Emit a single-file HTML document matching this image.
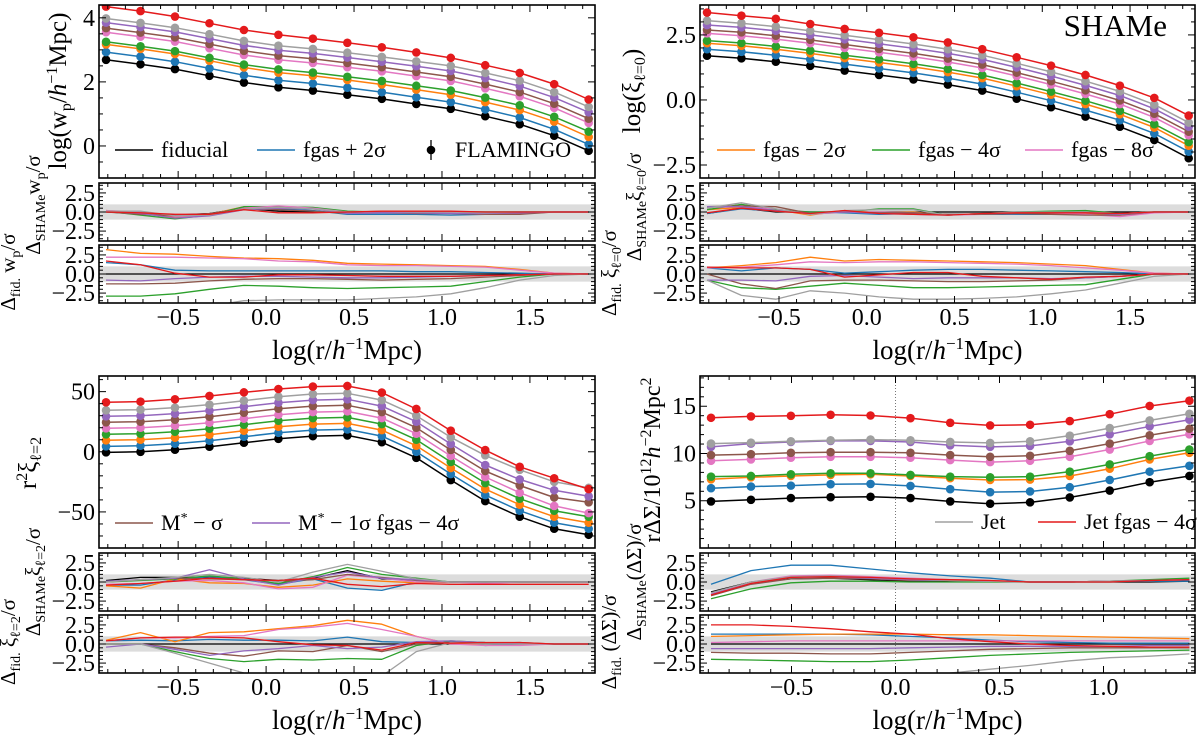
<!DOCTYPE html>
<html><head><meta charset="utf-8"><style>
html,body{margin:0;padding:0;background:#fff}
svg, svg text{font-family:"Liberation Serif","DejaVu Serif",serif}
</style></head><body>
<svg id="fig" width="1200" height="740" viewBox="0 0 1200 740" xmlns="http://www.w3.org/2000/svg" font-family="Liberation Serif, serif"></svg>
<script>
const seriesNames=["fiducial","fgas+2s","fgas-2s","fgas-4s","fgas-8s","Mstar-s","Mstar-1s-fgas-4s","Jet","Jet-fgas-4s"];
const colors=["#000000","#1f77b4","#ff7f0e","#2ca02c","#e377c2","#8c564b","#9467bd","#a0a0a0","#e41a1c"];
const xTop=[-0.91,-0.714,-0.518,-0.322,-0.126,0.07,0.266,0.462,0.658,0.854,1.05,1.246,1.442,1.638,1.834];
const xDS=[-0.887,-0.695,-0.503,-0.312,-0.12,0.072,0.263,0.455,0.647,0.838,1.03,1.222,1.413];

const wpMain=[
[2.69,2.55,2.40,2.19,1.98,1.83,1.73,1.60,1.47,1.31,1.16,0.93,0.68,0.32,-0.15],
[2.93,2.79,2.63,2.42,2.21,2.05,1.95,1.82,1.68,1.52,1.37,1.14,0.89,0.52,0.05],
[3.17,3.03,2.87,2.66,2.45,2.29,2.19,2.06,1.92,1.76,1.60,1.37,1.12,0.76,0.28],
[3.25,3.11,2.96,2.75,2.54,2.39,2.29,2.16,2.03,1.88,1.73,1.51,1.27,0.91,0.45],
[3.55,3.41,3.26,3.05,2.84,2.69,2.59,2.46,2.33,2.18,2.03,1.80,1.55,1.19,0.72],
[3.68,3.54,3.39,3.18,2.97,2.82,2.72,2.59,2.46,2.31,2.16,1.93,1.68,1.32,0.85],
[3.85,3.71,3.56,3.35,3.14,2.99,2.89,2.76,2.63,2.49,2.34,2.12,1.87,1.51,1.05],
[3.98,3.84,3.69,3.49,3.28,3.13,3.03,2.91,2.78,2.64,2.50,2.28,2.04,1.68,1.22],
[4.35,4.21,4.04,3.83,3.62,3.47,3.35,3.22,3.08,2.92,2.75,2.52,2.28,1.93,1.45]];
const wpRes1=[
[0,-0.2,-0.4,-0.2,0.5,0.1,0,0,0,0,0,0,0,0,0],
[0,-0.2,-0.6,-0.3,0.6,0.4,0.2,-0.3,-0.3,-0.3,-0.4,-0.3,-0.2,0,0],
[0.2,-0.1,-0.7,-0.3,0.7,0.6,0.4,0,-0.1,0,0,-0.2,-0.1,0,0],
[0.1,-0.4,-0.9,-0.4,0.7,0.7,0.6,0.1,0,0.1,0,0,0,0,0],
[0.2,0,-0.6,-0.4,0.5,0.8,0.5,0,0,0,-0.1,-0.3,-0.2,0,0],
[0,-0.3,-0.5,-0.2,0.4,0.3,0.1,-0.2,-0.1,-0.2,-0.2,-0.3,-0.3,0,0],
[0.1,-0.2,-0.8,-0.5,0.3,0.5,0.4,-0.2,-0.1,-0.1,-0.2,-0.2,-0.1,0,0],
[0.1,0.1,-0.5,-0.4,0.4,0.6,0.4,0,0.1,0,0,-0.1,0,0,0],
[0,-0.1,-0.3,-0.3,0.3,-0.1,-0.1,0,0.1,0.1,0.1,0,0,0,0]];
const wpRes2=[
[0,0,0,0,0,0,0,0,0,0,0,0,0,0,0],
[1.5,1.2,0.5,0.4,0.4,0.4,0.4,0.4,0.4,0.3,0.3,0.2,0.1,0,0],
[3.2,2.7,2.6,2.3,2.1,2.0,1.8,1.4,1.3,1.2,1.1,1.0,0.6,0.1,0],
[-2.9,-2.9,-2.6,-2.0,-1.5,-1.6,-1.8,-1.9,-1.8,-1.7,-1.6,-1.0,-0.4,0,0],
[2.2,2.2,2.2,2.1,2.0,1.7,1.6,1.2,1.1,1.1,1.0,0.9,0.5,0.1,0],
[-1.3,-1.3,-1.2,-0.9,-0.7,-0.6,-0.6,-0.7,-0.8,-0.7,-0.6,-0.4,-0.2,0,0],
[-0.8,-0.9,-0.6,-0.4,-0.3,-0.3,-0.4,-0.5,-0.5,-0.4,-0.3,-0.2,-0.1,0,0],
[-4.5,-4.5,-4.5,-4.2,-3.5,-3.4,-3.4,-3.4,-3.2,-3.0,-2.6,-1.8,-0.8,-0.2,0],
[1.7,1.2,0.1,-0.4,-0.4,-0.1,-0.1,-0.2,-0.3,-0.3,-0.3,-0.2,-0.1,0,0]];

const xi0Main=[
[1.70,1.60,1.47,1.31,1.13,0.96,0.79,0.59,0.36,0.05,-0.28,-0.64,-1.03,-1.54,-2.24],
[1.95,1.85,1.72,1.56,1.38,1.21,1.04,0.84,0.61,0.30,-0.03,-0.39,-0.78,-1.29,-1.99],
[2.18,2.08,1.95,1.79,1.61,1.44,1.27,1.07,0.84,0.53,0.20,-0.16,-0.55,-1.06,-1.76],
[2.28,2.19,2.06,1.90,1.72,1.56,1.39,1.19,0.96,0.65,0.32,-0.03,-0.42,-0.93,-1.62],
[2.56,2.47,2.34,2.18,2.00,1.83,1.66,1.46,1.23,0.92,0.59,0.23,-0.16,-0.67,-1.36],
[2.69,2.60,2.47,2.31,2.13,1.96,1.79,1.59,1.36,1.05,0.72,0.37,-0.02,-0.53,-1.22],
[2.88,2.79,2.66,2.50,2.33,2.16,1.99,1.79,1.56,1.25,0.92,0.56,0.17,-0.34,-1.03],
[3.05,2.95,2.82,2.66,2.49,2.32,2.15,1.95,1.72,1.41,1.08,0.72,0.33,-0.18,-0.87],
[3.36,3.24,3.12,2.92,2.73,2.58,2.41,2.21,1.95,1.64,1.32,0.96,0.55,0.08,-0.60]];
const xi0Res1=[
[-0.2,0.5,0,0,0,0,0,0,0,0,0,0,0,0,0],
[-0.2,0.4,0.1,0,-0.1,-0.3,-0.2,-0.3,-0.3,-0.3,-0.3,-0.2,-0.3,0,0],
[0.3,0.6,0.3,-0.4,0.2,-0.1,0,-0.4,-0.2,-0.1,-0.1,-0.2,-0.4,0,0],
[0.3,1.0,0.3,0,0,0.4,0.4,-0.4,-0.2,0,0.1,0.2,-0.2,0,0],
[0.6,0.7,0.4,-0.3,0,0,-0.1,-0.4,-0.3,-0.2,-0.2,-0.3,-0.6,-0.1,0],
[0.7,0.8,0.7,-0.2,0,-0.1,-0.1,-0.3,-0.3,-0.2,-0.3,-0.4,-0.4,0,0],
[0.7,0.7,0.2,-0.2,0,-0.2,-0.3,-0.4,-0.2,-0.1,-0.1,-0.1,-0.3,0,0],
[0.5,1.2,0.4,-0.3,0.2,0.3,0.3,-0.4,-0.2,0,0,0,-0.2,0,0],
[-0.1,0.5,0.1,-0.2,0.2,-0.2,-0.3,-0.4,-0.2,-0.1,-0.1,-0.1,-0.2,0,0]];
const xi0Res2=[
[0,0,0,0,0,0,0,0,0,0,0,0,0,0,0],
[0.8,0.4,0.8,0.6,0.1,0.3,0.5,0.6,0.6,0.5,0.4,0.3,0.2,0,0],
[0.8,1.1,1.5,2.2,1.7,1.9,1.8,1.7,1.6,1.5,1.3,1.1,0.6,0.1,0],
[-0.8,-1.8,-2.0,-1.6,-1.2,-1.5,-1.8,-1.8,-1.7,-1.6,-1.5,-1.4,-0.7,0,0],
[0.8,0.9,1.2,1.6,1.5,1.6,1.6,1.5,1.4,1.3,1.1,0.8,0.5,0.1,0],
[0,-1.3,-1.9,-0.9,-0.8,-0.8,-0.9,-1.0,-1.0,-0.9,-0.8,-0.5,-0.3,0,0],
[-0.8,-0.8,-0.9,-0.3,-0.2,-0.4,-0.6,-0.5,-0.5,-0.5,-0.6,-0.5,-0.3,0,0],
[-0.8,-2.8,-3.3,-2.2,-2.5,-3.0,-3.3,-3.3,-3.2,-3.0,-2.6,-2.1,-1.2,-0.3,0],
[0.9,0.8,0.8,0.6,-0.4,-0.1,0.2,0.2,-0.3,-0.5,-0.7,-0.4,-0.3,0,0]];

const xi2Main=[
[-0.5,0,1.7,4.2,7.5,10.8,13,13.6,8,-5,-23.5,-41,-54,-64,-69],
[4.5,5,6.7,9.2,12.5,15.8,18,18.6,13,0,-18.5,-36,-49,-59,-64],
[9.5,10,11.7,14.2,17.5,20.8,23,23.6,18,5,-13.5,-31,-44,-54,-59],
[14.5,15,16.7,19.2,22.5,25.8,28,28.6,23,10,-8.5,-26,-39,-49,-54],
[19.5,20,21.7,24.2,27.5,30.8,33,33.6,28,15,-3.5,-21,-34,-45,-51],
[24.5,25,26.7,29.2,32.5,35.8,38,38.6,33,20,1.5,-16,-28,-38,-42],
[29.5,30,31.7,34.2,37.5,40.8,43,43.6,38,25,6.5,-11,-23,-32,-37],
[34.5,35,36.7,39.2,42.5,45.8,48,48.6,43,30,12,-3,-15,-25,-30],
[41.1,41.7,43.6,46.4,49.4,52.2,54.2,54.7,49.2,35.6,17.5,1.4,-12.5,-22,-31]];
const xi2Res1=[
[0.2,0.6,0.6,0.6,0.5,0.2,0.5,1.5,0.4,0.3,0,0,0,0,0],
[-0.4,-0.4,0.3,0.7,0.3,-0.3,0.4,-0.8,-1.1,0,0,0,0,0,0],
[-0.5,-0.8,0.4,-0.1,-0.2,-0.7,-0.4,0.4,0.1,-0.1,0,0,0,0,0],
[0,0.2,0.4,0.8,0.4,-0.2,0.7,1.9,1.0,0.5,0,0,0,0,0],
[-0.3,-0.2,0.1,0.2,-0.1,-0.9,-0.7,0.9,0.5,0,0,-0.2,0,0,0],
[0,0.3,0.5,0.4,0.3,0.1,0.3,1.0,0.6,0.2,0,0,0,0,0],
[0.1,0.3,0.5,1.6,0.4,-0.4,0.6,1.3,0.5,0.3,0,0,0,0,0],
[0,0.3,0.6,1.0,0.6,0,1.3,2.3,1.4,0.4,0,0,0,0,0],
[-0.4,-0.2,0.1,0.5,0.3,0.2,0.5,-0.3,-0.6,-0.2,-0.3,-0.3,-0.3,-0.3,-0.3]];
const xi2Res2=[
[0,0,0,0,0,0,0,0,0,0,0,0,0,0,0],
[0.4,0.5,0.4,0.6,0.5,0.5,0.4,0.9,0.3,0.2,0.3,-0.2,0,0,0],
[0.5,1.5,0.3,1.5,1.6,2.0,2.4,3.1,2.6,1.0,0,0,0,0,0],
[0,0,-1.0,-1.9,-2.3,-2.0,-2.1,-1.9,-2.0,-0.2,0.4,0.2,0.1,0,0],
[0.4,0.8,0.8,1.0,1.1,1.9,2.2,2.7,1.9,1.0,0,-0.2,-0.2,0,0],
[0,0,-0.5,-1.2,-1.6,-0.9,-1.0,-0.2,-1.0,0,0.2,0.1,0.2,0,0],
[-0.4,0,-0.7,-1.5,-0.9,-0.6,-0.2,-0.6,-0.4,0.3,0.4,0.2,0.1,0,0],
[0,0,-1.2,-2.5,-3.8,-4.5,-4.5,-4.5,-4.2,-1.0,0.2,0,0,0,0],
[0.4,0.8,0.9,0.9,0.8,0.3,-0.1,-0.2,-0.8,0.2,0.1,0.2,0.2,0,0]];

const dsMain=[
[4.93,5.10,5.28,5.38,5.42,5.28,4.93,4.69,4.83,5.35,6.08,6.96,7.62],
[6.33,6.50,6.60,6.75,6.78,6.57,6.22,5.91,5.98,6.43,7.20,8.08,8.70],
[7.27,7.48,7.62,7.73,7.80,7.62,7.38,7.20,7.24,7.62,8.39,9.37,10.07],
[7.55,7.62,7.80,7.90,7.90,7.73,7.55,7.48,7.55,8.08,8.85,9.72,10.42],
[9.23,9.37,9.55,9.65,9.65,9.55,9.30,9.09,9.23,9.65,10.42,11.33,12.03],
[9.83,9.93,10.07,10.14,10.14,10.07,9.83,9.65,9.76,10.28,11.05,11.92,12.62],
[10.70,11.05,11.22,11.33,11.33,11.22,10.87,10.70,10.80,11.29,12.03,12.87,13.57],
[11.05,11.15,11.29,11.40,11.47,11.40,11.22,11.12,11.29,11.89,12.69,13.50,14.20],
[13.78,13.92,13.99,14.09,14.02,13.74,13.25,12.97,13.04,13.43,14.16,15.03,15.59]];
const dsRes1=[
[-1.3,0,0.4,0.5,0.3,0.1,0.1,0.1,0,0,0,0,0.1],
[-0.3,1.5,2.2,2.2,1.7,1.2,0.8,0.5,0,0,0.1,0.1,0.1],
[-1.7,-0.1,0.7,0.8,0.6,0.4,0.3,0.2,0,0,0.1,0.2,0.3],
[-2.2,-0.9,-0.1,0.1,0.1,0,0,0,0,0,0.1,0.3,0.5],
[-1.6,0,0.8,0.9,0.7,0.5,0.3,0.2,0,0,0.1,0.2,0.3],
[-1.8,-0.3,0.4,0.5,0.4,0.2,0.2,0.1,0,0,0.1,0.2,0.3],
[-1.6,-0.2,0.6,0.7,0.5,0.3,0.2,0.1,0,0,0.1,0.2,0.3],
[-1.4,0,0.7,0.8,0.6,0.4,0.2,0.1,0,0,0.1,0.2,0.3],
[-1.7,-0.2,0.6,0.7,0.6,0.4,0.3,0.2,0,0,0,0.2,0.3]];
const dsRes2=[
[0,0,0,0,0,0,0,0,0,0,0,0,0],
[1.3,1.3,1.3,1.3,1.2,1.0,0.8,0.5,0.3,0.2,0.1,0.1,0.1],
[1.0,1.1,1.2,1.3,1.3,1.3,1.2,1.2,1.1,1.0,0.9,0.8,0.7],
[-2.0,-2.1,-2.2,-2.3,-2.3,-2.1,-1.8,-1.5,-1.3,-1.1,-1.0,-0.9,-0.8],
[0.2,0.3,0.4,0.4,0.4,0.4,0.4,0.4,0.4,0.4,0.4,0.4,0.4],
[-1.1,-1.2,-1.2,-1.3,-1.3,-1.1,-0.9,-0.7,-0.6,-0.5,-0.5,-0.5,-0.5],
[-0.6,-0.6,-0.6,-0.6,-0.6,-0.5,-0.4,-0.3,-0.3,-0.3,-0.3,-0.2,-0.2],
[-5,-5,-5,-5,-5,-4.5,-3.8,-3.3,-2.8,-2.2,-1.8,-1.6,-1.3],
[2.5,2.5,2.3,2.0,1.6,1.3,0.7,0.3,0,-0.2,-0.3,-0.4,-0.4]];

const xTicksTop=[-0.5,0.0,0.5,1.0,1.5];
const xTicksDS=[-0.5,0.0,0.5,1.0];
const resTicks=[-2.5,0.0,2.5];

const NS="http://www.w3.org/2000/svg";
const FONT='"Liberation Serif", serif';
const svg=document.getElementById('fig');
function mk(tag,attrs,parent){const e=document.createElementNS(NS,tag);for(const k in attrs)e.setAttribute(k,attrs[k]);if(tag==='text')e.setAttribute('font-family',FONT);(parent||svg).appendChild(e);return e;}
function fmt(v,d){const s=v.toFixed(d);return s.replace('-','\u2212');}
let clipId=0;

function axes(x0,x1,y0,y1,xlim,ylim,yTicks,yMinor,yDec,xTicks,showXLabels,name){
  const g=mk('g',{});
  
  
  const X=v=>x0+(v-xlim[0])/(xlim[1]-xlim[0])*(x1-x0);
  const Y=v=>y1-(v-ylim[0])/(ylim[1]-ylim[0])*(y1-y0);
  const id='c'+(clipId++);
  const cp=mk('clipPath',{id:id},g);mk('rect',{x:x0,y:y0,width:x1-x0,height:y1-y0},cp);
  const plot=mk('g',{'clip-path':'url(#'+id+')'},g);
  const tg=mk('g',{stroke:'#000','stroke-width':1},g);
  for(let v=Math.ceil(xlim[0]*10)/10; v<=xlim[1]+1e-9; v=Math.round((v+0.1)*10)/10){
    const major=Math.abs(v*2-Math.round(v*2))<1e-6;const L=major?7:4;const px=X(v);
    mk('line',{x1:px,x2:px,y1:y1,y2:y1-L},tg);mk('line',{x1:px,x2:px,y1:y0,y2:y0+L},tg);
  }
  for(let v=Math.ceil(ylim[0]/yMinor)*yMinor; v<=ylim[1]+1e-9; v+=yMinor){
    const vv=Math.round(v/yMinor)*yMinor;const major=yTicks.some(t=>Math.abs(t-vv)<1e-6);const L=major?7:4;const py=Y(vv);
    mk('line',{x1:x0,x2:x0+L,y1:py,y2:py},tg);mk('line',{x1:x1,x2:x1-L,y1:py,y2:py},tg);
  }
  yTicks.forEach(t=>{const e=mk('text',{x:x0-4,y:Y(t)+8,'text-anchor':'end','font-size':24},g);e.textContent=fmt(t,yDec);
    
    });
  if(showXLabels){xTicks.forEach(t=>{const e=mk('text',{x:X(t),y:y1+22,'text-anchor':'middle','font-size':24},g);e.textContent=fmt(t,1);
    
    });}
  mk('rect',{x:x0,y:y0,width:x1-x0,height:y1-y0,fill:'none',stroke:'#000','stroke-width':1.6},g);
  return {X,Y,plot,g};
}
function line(ax,xs,ys,color,w,name){
  const d=xs.map((x,i)=>(i?'L':'M')+ax.X(x).toFixed(1)+','+ax.Y(ys[i]).toFixed(1)).join('');
  const p=mk('path',{d:d,fill:'none',stroke:color,'stroke-width':w||1.5,'stroke-linejoin':'round'},ax.plot);
  
  
}
function dots(ax,xs,ys,color,name){
  xs.forEach((x,i)=>{const c=mk('circle',{cx:ax.X(x),cy:ax.Y(ys[i]),r:4.3,fill:color},ax.plot);
    
    });
}
function band(ax,xlim){mk('rect',{x:ax.X(xlim[0]),y:ax.Y(1),width:ax.X(xlim[1])-ax.X(xlim[0]),height:ax.Y(-1)-ax.Y(1),fill:'#dcdcdc'},ax.plot);}
function ylabel(x,y,html,size,name){
  const t=mk('text',{transform:'translate('+x+','+y+') rotate(-90)','text-anchor':'middle','font-size':size||24});
  t.innerHTML=html;
  
  
}
function text(x,y,s,size,name,anchor){const t=mk('text',{x:x,y:y,'font-size':size||20,'text-anchor':anchor||'start'});t.innerHTML=s;
  
  return t;}

function panel(cfg){
  const {x0,x1,yM,xlim,ylim,yTicks,yMinor,yDec,xs,main,r1,r2,xTicks}=cfg;
  const am=axes(x0,x1,yM[0],yM[1],xlim,ylim,yTicks,yMinor,yDec,xTicks,false,cfg.name+'-main');
  if(cfg.vline){mk('line',{x1:am.X(0),x2:am.X(0),y1:yM[0],y2:yM[1],stroke:'#777','stroke-width':1,'stroke-dasharray':'1,2'},am.plot);}
  main.forEach((s,k)=>{line(am,xs,s,colors[k],1.5,'line-'+seriesNames[k]);dots(am,xs,s,colors[k],'point-'+seriesNames[k]);});
  const a1=axes(x0,x1,yM[1]+5,yM[1]+63,xlim,[-3.8,3.8],resTicks,0.5,1,xTicks,false,cfg.name+'-shame-residual');
  band(a1,xlim);
  if(cfg.vline)mk('line',{x1:a1.X(0),x2:a1.X(0),y1:yM[1]+5,y2:yM[1]+63,stroke:'#777','stroke-width':1,'stroke-dasharray':'1,2'},a1.plot);
  r1.forEach((s,k)=>line(a1,xs,s,colors[k],1.3,'shame-residual-'+seriesNames[k]));
  const a2=axes(x0,x1,yM[1]+67,yM[1]+125,xlim,[-3.8,3.8],resTicks,0.5,1,xTicks,true,cfg.name+'-fid-residual');
  band(a2,xlim);
  if(cfg.vline)mk('line',{x1:a2.X(0),x2:a2.X(0),y1:yM[1]+67,y2:yM[1]+125,stroke:'#777','stroke-width':1,'stroke-dasharray':'1,2'},a2.plot);
  r2.forEach((s,k)=>line(a2,xs,s,colors[k],1.3,'fid-residual-'+seriesNames[k]));
  text((x0+x1)/2,yM[1]+181,'log(r/<tspan font-style="italic">h</tspan><tspan dy="-10" font-size="17">\u22121</tspan><tspan dy="10">Mpc)</tspan>',27,'x-axis-title','middle');
  return am;
}

const xl=[-0.95,1.87];
panel({name:'wp',x0:99,x1:595,yM:[5,178],xlim:xl,ylim:[-1.0,4.4],yTicks:[0,2,4],yMinor:0.5,yDec:0,xs:xTop,main:wpMain,r1:wpRes1,r2:wpRes2,xTicks:xTicksTop});
panel({name:'xi0',x0:700,x1:1195,yM:[5,178],xlim:xl,ylim:[-3.0,3.65],yTicks:[-2.5,0,2.5],yMinor:0.5,yDec:1,xs:xTop,main:xi0Main,r1:xi0Res1,r2:xi0Res2,xTicks:xTicksTop});
panel({name:'xi2',x0:99,x1:595,yM:[376,548],xlim:xl,ylim:[-80,63],yTicks:[-50,0,50],yMinor:10,yDec:0,xs:xTop,main:xi2Main,r1:xi2Res1,r2:xi2Res2,xTicks:xTicksTop});
panel({name:'ds',x0:700,x1:1195,yM:[376,548],xlim:[-0.94,1.44],ylim:[0,18.2],yTicks:[5,10,15],yMinor:1,yDec:0,xs:xDS,main:dsMain,r1:dsRes1,r2:dsRes2,xTicks:xTicksDS,vline:true});

ylabel(66,91,'log(w<tspan dy="5" font-size="16">p</tspan><tspan dy="-5">/</tspan><tspan font-style="italic">h</tspan><tspan dy="-9" font-size="16">\u22121</tspan><tspan dy="9">Mpc)</tspan>',25,'y-axis-title-wp');
ylabel(640,91,'log(\u03be<tspan dy="5" font-size="16">\u2113=0</tspan><tspan dy="-5">)</tspan>',25,'y-axis-title-xi0');
ylabel(36,463,'r<tspan dy="-9" font-size="16">2</tspan><tspan dy="9">\u03be</tspan><tspan dy="5" font-size="16">\u2113=2</tspan>',25,'y-axis-title-xi2');
ylabel(660,460,'r\u0394\u03a3/10<tspan dy="-9" font-size="16">12</tspan><tspan dy="9" font-style="italic">h</tspan><tspan dy="-9" font-size="16">\u22122</tspan><tspan dy="9">Mpc</tspan><tspan dy="-9" font-size="16">2</tspan>',24,'y-axis-title-ds');
ylabel(40,205,'\u0394<tspan dy="5" font-size="14">SHAMe</tspan><tspan dy="-5">w</tspan><tspan dy="5" font-size="14">p</tspan><tspan dy="-5">/\u03c3</tspan>',21,'y-axis-title-wp-shame');
ylabel(15,272,'\u0394<tspan dy="5" font-size="14">fid.</tspan><tspan dy="-5"> w</tspan><tspan dy="5" font-size="14">p</tspan><tspan dy="-5">/\u03c3</tspan>',21,'y-axis-title-wp-fid');
ylabel(641,207,'\u0394<tspan dy="5" font-size="14">SHAMe</tspan><tspan dy="-5">\u03be</tspan><tspan dy="5" font-size="14">\u2113=0</tspan><tspan dy="-5">/\u03c3</tspan>',21,'y-axis-title-xi0-shame');
ylabel(616,273,'\u0394<tspan dy="5" font-size="14">fid.</tspan><tspan dy="-5"> \u03be</tspan><tspan dy="5" font-size="14">\u2113=0</tspan><tspan dy="-5">/\u03c3</tspan>',21,'y-axis-title-xi0-fid');
ylabel(40,582,'\u0394<tspan dy="5" font-size="14">SHAMe</tspan><tspan dy="-5">\u03be</tspan><tspan dy="5" font-size="14">\u2113=2</tspan><tspan dy="-5">/\u03c3</tspan>',21,'y-axis-title-xi2-shame');
ylabel(15,642,'\u0394<tspan dy="5" font-size="14">fid.</tspan><tspan dy="-5"> \u03be</tspan><tspan dy="5" font-size="14">\u2113=2</tspan><tspan dy="-5">/\u03c3</tspan>',21,'y-axis-title-xi2-fid');
ylabel(641,582,'\u0394<tspan dy="5" font-size="14">SHAMe</tspan><tspan dy="-5">(\u0394\u03a3)/\u03c3</tspan>',21,'y-axis-title-ds-shame');
ylabel(616,642,'\u0394<tspan dy="5" font-size="14">fid.</tspan><tspan dy="-5"> (\u0394\u03a3)/\u03c3</tspan>',21,'y-axis-title-ds-fid');

function legLine(x,y,c,label,name){
  const l=mk('line',{x1:x,x2:x+38,y1:y,y2:y,stroke:c,'stroke-width':1.5});
  
  
  text(x+46,y+7,label,22,name);
}
legLine(115,150,colors[0],'fiducial','legend-fiducial');
legLine(257,150,colors[1],'fgas + 2\u03c3','legend-fgas-plus-2s');
mk('line',{x1:431,x2:431,y1:140,y2:160,stroke:'#000','stroke-width':1.3});
const fm=mk('circle',{cx:431,cy:150,r:4.3,fill:'#000'});


text(455,157,'FLAMINGO',22,'legend-flamingo');
legLine(717,150,colors[2],'fgas \u2212 2\u03c3','legend-fgas-minus-2s');
legLine(872,150,colors[3],'fgas \u2212 4\u03c3','legend-fgas-minus-4s');
legLine(1025,150,colors[4],'fgas \u2212 8\u03c3','legend-fgas-minus-8s');
legLine(115,523,colors[5],'M<tspan dy="-8" font-size="14">*</tspan><tspan dy="8"> \u2212 \u03c3</tspan>','legend-mstar-minus-s');
legLine(252,523,colors[6],'M<tspan dy="-8" font-size="14">*</tspan><tspan dy="8"> \u2212 1\u03c3 fgas \u2212 4\u03c3</tspan>','legend-mstar-fgas');
legLine(935,522,colors[7],'Jet','legend-jet');
legLine(1038,522,colors[8],'Jet fgas \u2212 4\u03c3','legend-jet-fgas');
text(1167,36,'SHAMe',31,'shame-label','end');
</script>
</body></html>
